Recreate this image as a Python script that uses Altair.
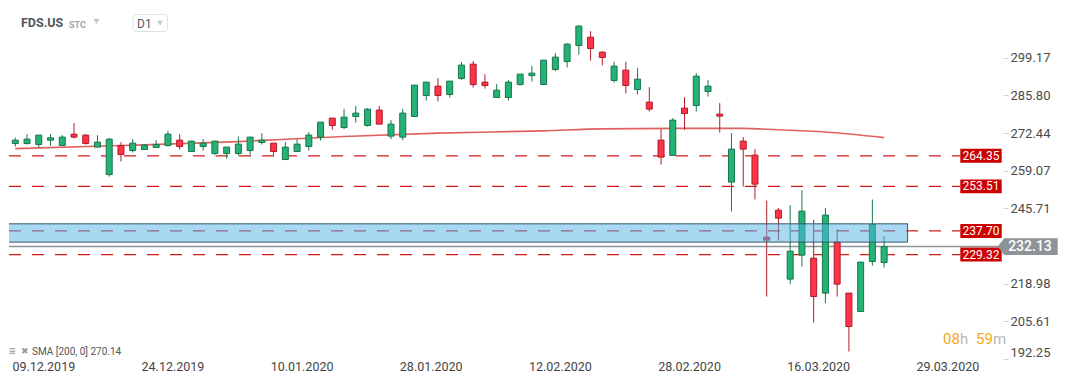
import altair as alt
import pandas as pd

# ---------------- data ----------------
opens = [268.71, 268.71, 268.36, 269.92, 268.01, 272.05, 271.70, 267.44, 257.71, 268.01,
         266.23, 266.59, 267.30, 268.01, 269.92, 265.88, 267.65, 265.17, 265.17, 265.17,
         266.23, 269.07, 268.86, 263.04, 265.88, 267.65, 270.99, 277.73, 274.39, 278.30,
         275.10, 280.57, 271.34, 270.99, 278.30, 285.75, 289.08, 286.10, 291.78, 296.89,
         290.50, 285.04, 285.04, 289.65, 292.85, 289.65, 294.97, 297.81, 303.49, 306.47,
         301.15, 291.07, 294.76, 287.88, 283.41, 269.92, 264.46, 281.28, 282.20, 287.17,
         279.15, 255.02, 269.57, 264.60, 235.50, 245.08, 220.60, 229.11, 228.05, 215.63,
         233.73, 215.63, 209.10, 226.84, 226.49]
highs = [270.84, 272.05, 271.70, 272.05, 271.70, 275.95, 272.05, 271.70, 270.63, 269.21,
         270.28, 268.50, 269.92, 273.22, 272.05, 269.67, 270.28, 269.67, 267.50, 271.20,
         271.05, 272.41, 268.90, 269.21, 270.28, 272.76, 276.31, 277.80, 281.03, 282.09,
         281.28, 282.09, 277.02, 281.03, 289.44, 290.50, 291.92, 290.86, 297.71, 297.96,
         293.34, 289.79, 291.21, 293.34, 296.29, 298.31, 300.79, 304.34, 310.73, 308.60,
         301.36, 297.71, 297.71, 295.47, 288.73, 273.82, 277.73, 285.18, 293.70, 291.21,
         283.05, 272.41, 270.99, 266.73, 248.49, 245.79, 246.86, 252.18, 241.64, 245.79,
         238.34, 215.63, 226.63, 248.84, 235.85]
lows = [267.65, 268.36, 267.19, 268.01, 268.01, 270.49, 268.36, 267.30, 257.00, 262.33,
        265.52, 266.59, 267.30, 267.65, 266.59, 265.77, 266.23, 264.46, 263.39, 264.46,
        264.46, 268.36, 264.46, 263.04, 265.88, 266.23, 269.78, 273.58, 273.82, 276.17,
        274.75, 275.60, 270.28, 269.92, 278.30, 283.97, 283.62, 285.04, 291.32, 288.59,
        288.23, 285.04, 283.97, 289.30, 290.72, 289.65, 294.41, 295.68, 300.30, 298.17,
        296.39, 290.36, 286.46, 286.10, 280.07, 261.26, 264.46, 273.58, 280.07, 285.39,
        272.62, 244.58, 253.46, 248.84, 214.42, 234.29, 218.82, 225.07, 205.20, 212.08,
        214.42, 194.90, 209.10, 225.42, 224.71]
closes = [269.92, 270.28, 271.70, 270.74, 270.99, 270.99, 268.71, 269.21, 270.28, 264.81,
          268.86, 268.15, 268.36, 272.05, 267.65, 269.57, 268.86, 269.57, 267.44, 268.50,
          270.99, 269.92, 265.88, 267.44, 268.50, 271.70, 276.31, 275.10, 278.08, 279.50,
          280.92, 275.60, 275.60, 279.50, 289.44, 290.50, 285.75, 290.86, 296.54, 289.65,
          289.30, 287.66, 290.50, 293.34, 293.70, 298.31, 299.37, 303.99, 310.38, 302.43,
          299.23, 296.18, 289.30, 291.57, 280.92, 263.89, 277.02, 279.36, 292.63, 289.08,
          278.44, 266.73, 266.73, 254.31, 234.43, 242.24, 230.53, 244.73, 214.42, 243.31,
          218.82, 203.78, 226.63, 239.97, 232.13]

sma_index = [1, 10, 20, 29, 37, 46, 51, 59, 63, 66, 70, 75]
sma_values = [266.9, 268.0, 269.4, 271.2, 272.4, 273.2, 273.9, 274.1, 274.1, 273.6, 272.8, 270.8]

levels = [264.35, 253.51, 237.70, 229.32]
zone_low, zone_high = 233.73, 240.22
zone_start, zone_end = 0.4, 77.0
last_price = 232.13

y_ticks = [192.25, 205.61, 218.98, 245.71, 259.07, 272.44, 285.80, 299.17]
date_labels = ["09.12.2019", "24.12.2019", "10.01.2020", "28.01.2020",
               "12.02.2020", "28.02.2020", "16.03.2020", "29.03.2020"]
date_index = [3, 14, 25, 36, 47, 58, 69, 80]

# ---------------- styling ----------------
W, H = 994, 351
GREEN, GREEN_D = "#25b277", "#17774a"
RED, RED_D = "#ff3347", "#b01c2b"
FONT = "Roboto"

xs = alt.Scale(domain=[0.89, 84.70], nice=False, zero=False)
ys = alt.Scale(domain=[192.25, 316.81], nice=False, zero=False)
yaxis = alt.Axis(orient="right", values=y_ticks, format=".2f", grid=False, domain=False,
                 tickColor="#d5d5d5", tickSize=5, labelPadding=2, labelFontSize=13,
                 labelColor="#4a4a4a", labelFont=FONT, labelFlush=True, title=None)

df = pd.DataFrame({"i": list(range(1, len(opens) + 1)), "open": opens, "high": highs,
                   "low": lows, "close": closes})
up = "datum.close >= datum.open"

base = alt.Chart(df)
wicks = base.mark_rule(strokeWidth=1).encode(
    x=alt.X("i:Q", scale=xs, axis=None),
    y=alt.Y("low:Q", scale=ys, axis=yaxis),
    y2="high:Q",
    color=alt.condition(up, alt.value(GREEN_D), alt.value(RED_D)),
)
bodies = base.mark_bar(size=6, strokeWidth=1, clip=True).encode(
    x=alt.X("i:Q", scale=xs, axis=None),
    y=alt.Y("open:Q", scale=ys, axis=yaxis),
    y2="close:Q",
    fill=alt.condition(up, alt.value(GREEN), alt.value(RED)),
    stroke=alt.condition(up, alt.value(GREEN_D), alt.value(RED_D)),
)

sma = alt.Chart(pd.DataFrame({"i": sma_index, "v": sma_values})).mark_line(
    color="#dd4444", strokeWidth=1.6, opacity=0.85, interpolate="monotone").encode(
    x=alt.X("i:Q", scale=xs, axis=None),
    y=alt.Y("v:Q", scale=ys, axis=yaxis),
)

lv = pd.DataFrame({"level": levels})
dashed = alt.Chart(lv).mark_rule(color="#d31b1b", strokeWidth=1.3, strokeDash=[12, 11]).encode(
    x=alt.value(0), x2=alt.value(951),
    y=alt.Y("level:Q", scale=ys, axis=yaxis),
)
tag_path = "M-1,-0.338L1,-0.338L1,0.338L-1,0.338Z"
tags = alt.Chart(lv).mark_point(shape=tag_path, size=1714, filled=True, opacity=1,
                                color="#cc0000", strokeWidth=0).encode(
    x=alt.value(972), y=alt.Y("level:Q", scale=ys, axis=yaxis))
tag_text = alt.Chart(lv).mark_text(color="white", fontSize=12, font=FONT).encode(
    x=alt.value(972), y=alt.Y("level:Q", scale=ys, axis=yaxis),
    text=alt.Text("level:Q", format=".2f"))

lp = pd.DataFrame({"p": [last_price]})
price_line = alt.Chart(lp).mark_rule(color="#8c9498", strokeWidth=1.5).encode(
    x=alt.value(0), x2=alt.value(990), y=alt.Y("p:Q", scale=ys, axis=yaxis))
gray_path = "M-1,0L-0.78,-0.283L1,-0.283L1,0.283L-0.78,0.283Z"
price_tag = alt.Chart(lp).mark_point(shape=gray_path, size=3600, filled=True, opacity=1,
                                     color="#8c9498", strokeWidth=0).encode(
    x=alt.value(1018.7), y=alt.Y("p:Q", scale=ys, axis=yaxis))
price_text = alt.Chart(lp).mark_text(color="white", fontSize=14, fontWeight=500, font=FONT).encode(
    x=alt.value(1021), y=alt.Y("p:Q", scale=ys, axis=yaxis),
    text=alt.Text("p:Q", format=".2f"))

zone = alt.Chart(pd.DataFrame({"x0": [zone_start], "x1": [zone_end],
                               "lo": [zone_low], "hi": [zone_high]})).mark_rect(
    fill="#4fb5e5", fillOpacity=0.5, stroke="#3b5663", strokeWidth=1, clip=True).encode(
    x=alt.X("x0:Q", scale=xs, axis=None), x2="x1:Q",
    y=alt.Y("lo:Q", scale=ys, axis=yaxis), y2="hi:Q")

dates = alt.Chart(pd.DataFrame({"i": date_index, "t": date_labels})).mark_text(
    fontSize=12.5, color="#444444", font=FONT, dx=5).encode(
    x=alt.X("i:Q", scale=xs, axis=None), y=alt.value(359), text="t:N")


def txt(s, x, y, **kw):
    return alt.Chart(alt.Data(values=[{"t": s}])).mark_text(font=FONT, **kw).encode(
        x=alt.value(x), y=alt.value(y), text="t:N")


def shape_at(x, y, **kw):
    return alt.Chart(alt.Data(values=[{"a": 1}])).mark_point(**kw).encode(
        x=alt.value(x), y=alt.value(y))


header = [
    txt("FDS.US", 12, 15, align="left", fontSize=12.5, fontWeight="bold", color="#50575c"),
    txt("STC", 60, 16.5, align="left", fontSize=9, fontWeight="bold", color="#9aa5ad"),
    shape_at(87.5, 13.5, shape="triangle-down", size=40, filled=True, opacity=1, color="#c5cacd"),
    alt.Chart(alt.Data(values=[{"a": 1}])).mark_rect(
        fill="white", stroke="#dfe3e6", strokeWidth=1, cornerRadius=3).encode(
        x=alt.value(124), x2=alt.value(158.5), y=alt.value(6.5), y2=alt.value(23.5)),
    txt("D1", 128, 15.5, align="left", fontSize=12, color="#50575c"),
    shape_at(151, 15, shape="triangle-down", size=35, filled=True, opacity=1, color="#c5cacd"),
]
legend = [
    txt("≡", 0, 343, align="left", fontSize=12, fontWeight="bold", color="#9a9a9a", font_override=None)
    if False else txt("≡", 0, 342.5, align="left", fontSize=12, fontWeight="bold", color="#9a9a9a"),
    txt("✖", 12, 343, align="left", fontSize=9, color="#9a9a9a"),
    txt("SMA [200,  0] 270.14", 23, 343.5, align="left", fontSize=10, color="#555555"),
]
timer = [
    txt("08", 934, 331, align="left", fontSize=15, color="#f5a623"),
    txt("h", 951, 331, align="left", fontSize=15, color="#b8b8b8"),
    txt("59", 967, 331, align="left", fontSize=15, color="#f5a623"),
    txt("m", 984, 331, align="left", fontSize=15, color="#b8b8b8"),
]

chart = alt.layer(
    sma, dashed, price_line, wicks, bodies, zone, tags, tag_text,
    price_tag, price_text, dates, *header, *legend, *timer
).properties(width=W, height=H, padding=0, background="white").configure_view(stroke=None)

chart.save("out.html", embed_options={"renderer": "svg", "actions": False})
